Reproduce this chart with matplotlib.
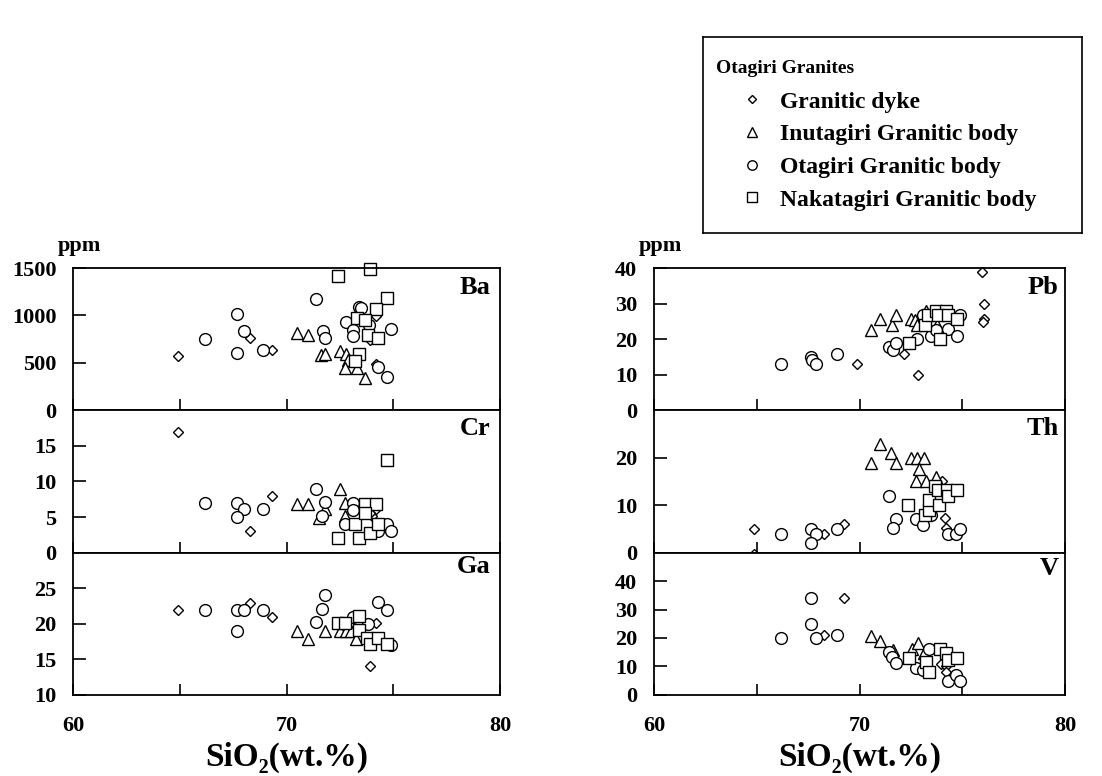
import matplotlib
matplotlib.use('Agg')
import matplotlib.pyplot as plt
from matplotlib.font_manager import FontProperties

plt.rcParams['font.family'] = ['Liberation Serif', 'DejaVu Serif']
plt.rcParams['font.weight'] = 'bold'
plt.rcParams['axes.labelweight'] = 'bold'

groups = ['Granitic dyke', 'Inutagiri Granitic body',
          'Otagiri Granitic body', 'Nakatagiri Granitic body']
markers = ['D', '^', 'o', 's']
msizes = [5, 9, 8.5, 8.5]

# (SiO2, value) for each group, in the order of `groups`
ba = [([64.9, 68.3, 69.3, 74.2, 74.0, 73.9, 74.2],
       [570, 760, 640, 996, 781, 746, 486]),
      ([70.5, 71.0, 71.6, 71.8, 72.5, 72.8, 72.9, 72.75, 73.3, 73.7],
       [816, 792, 580, 590, 625, 590, 531, 451, 444, 340]),
      ([66.2, 67.7, 68.0, 67.7, 68.9, 71.4, 71.7, 71.8, 72.8, 73.1, 73.1,
        73.4, 73.5, 73.85, 74.9, 74.3, 74.7],
       [747, 1016, 831, 606, 631, 1170, 833, 757, 927, 851, 781,
        1087, 1076, 900, 861, 458, 354]),
      ([72.4, 73.9, 74.7, 74.2, 73.3, 73.7, 73.8, 74.3, 73.4, 73.2],
       [1417, 1493, 1180, 1069, 972, 955, 792, 757, 597, 521])]

cr = [([64.9, 68.3, 69.3, 74.0, 74.2, 73.9],
       [17.0, 3.0, 8.0, 5.1, 6.1, 5.5]),
      ([70.5, 71.0, 72.5, 72.75, 71.8, 71.5, 72.75],
       [6.8, 6.8, 8.9, 7.0, 6.1, 4.9, 5.1]),
      ([66.2, 67.7, 68.0, 67.7, 68.9, 71.4, 71.8, 71.65, 73.1, 73.1, 72.75,
        74.7, 74.9, 74.3],
       [7.0, 7.0, 6.1, 5.0, 6.1, 9.0, 7.1, 5.1, 7.0, 6.0, 4.0,
        4.0, 3.0, 3.0]),
      ([74.7, 73.7, 74.2, 73.2, 72.4, 73.4, 73.9, 74.3, 73.7],
       [13.0, 6.9, 6.9, 4.0, 2.0, 2.0, 2.8, 4.0, 5.5])]

ga = [([64.9, 68.3, 69.3, 74.2, 74.2, 73.9],
       [22.0, 22.9, 20.9, 20.1, 18.0, 14.1]),
      ([70.5, 71.0, 71.8, 72.5, 72.8, 73.0, 73.25],
       [19.0, 17.8, 19.0, 19.0, 19.0, 19.0, 17.8]),
      ([66.2, 67.7, 68.0, 67.7, 68.9, 71.8, 71.65, 71.4, 74.3, 74.7, 73.1,
        73.8, 74.9],
       [22.0, 22.0, 22.0, 19.0, 22.0, 24.0, 22.1, 20.2, 23.1, 22.0, 21.0,
        20.0, 17.0]),
      ([72.4, 72.75, 73.4, 73.4, 73.75, 73.9, 74.3, 74.7],
       [20.1, 20.1, 21.1, 19.1, 18.0, 17.1, 18.0, 17.1])]

pb = [([75.95, 76.05, 76.05, 76.0, 69.9, 72.15, 72.85],
       [39.0, 29.9, 25.8, 24.8, 12.9, 15.9, 10.0]),
      ([70.55, 71.0, 71.6, 71.8, 72.5, 72.7, 72.8, 73.25, 73.75],
       [22.7, 25.7, 23.9, 26.8, 25.6, 25.3, 24.0, 28.0, 24.0]),
      ([66.2, 67.65, 67.7, 67.9, 68.9, 71.45, 71.65, 71.8, 72.8, 73.1, 73.2,
        73.5, 73.7, 74.3, 74.75, 74.9],
       [12.9, 14.9, 14.0, 12.9, 15.9, 17.9, 17.0, 19.0, 20.0, 26.9, 24.0,
        21.0, 22.5, 22.8, 21.0, 26.9]),
      ([72.4, 73.2, 73.35, 73.7, 74.2, 73.8, 74.3, 74.75, 73.9],
       [19.0, 24.0, 26.7, 28.0, 28.0, 26.7, 26.7, 25.8, 20.0])]

th = [([64.85, 64.85, 68.25, 69.25, 74.0, 74.15, 74.2],
       [5.0, -0.4, 4.0, 6.0, 15.1, 7.2, 5.1]),
      ([70.55, 71.0, 71.55, 71.8, 72.5, 72.8, 73.15, 72.9, 72.75, 73.25, 73.7],
       [18.9, 23.0, 21.0, 18.9, 19.9, 19.9, 19.9, 17.7, 15.1, 15.1, 15.9]),
      ([66.2, 67.65, 67.9, 67.65, 68.9, 71.45, 71.8, 71.65, 72.75, 73.1,
        73.5, 74.3, 74.7, 74.9],
       [4.0, 5.0, 4.0, 2.0, 5.0, 12.0, 7.0, 5.1, 7.0, 5.9,
        8.0, 4.0, 4.0, 5.0]),
      ([72.35, 73.2, 73.4, 73.4, 73.65, 73.8, 73.85, 74.25, 74.3, 74.75],
       [10.0, 8.0, 9.0, 11.0, 14.0, 13.1, 10.0, 13.1, 11.9, 13.1])]

v = [([69.25, 68.25, 73.95, 74.2, 74.2],
      [33.9, 20.9, 10.9, 10.0, 8.2]),
     ([70.55, 71.0, 71.65, 72.55, 72.85, 73.15],
      [20.8, 19.0, 15.8, 16.1, 18.2, 14.7]),
     ([66.2, 67.65, 67.65, 67.9, 68.9, 71.45, 71.6, 71.8, 72.75, 73.1,
       73.4, 74.3, 74.7, 74.9],
      [20.0, 34.0, 25.0, 20.0, 20.9, 15.2, 13.4, 11.1, 9.3, 8.6,
       16.1, 5.0, 7.0, 5.0]),
     ([72.4, 73.25, 73.4, 73.9, 74.2, 74.3, 74.75],
      [13.0, 11.4, 8.0, 16.2, 14.7, 12.1, 13.0])]

# name, data, y limits, y ticks, label y position
left_panels = [('Ba', ba, (0, 1500), [0, 500, 1000, 1500], 0.86),
               ('Cr', cr, (0, 20), [0, 5, 10, 15], 0.87),
               ('Ga', ga, (10, 30), [10, 15, 20, 25], 0.90)]
right_panels = [('Pb', pb, (0, 40), [0, 10, 20, 30, 40], 0.86),
                ('Th', th, (0, 30), [0, 10, 20], 0.87),
                ('V', v, (0, 50), [0, 10, 20, 30, 40], 0.89)]

W, H = 1102, 776
fig = plt.figure(figsize=(W / 100, H / 100), dpi=100)

top_px, panel_h = 268, 142.3
columns = [(73, 427, left_panels, 0.977), (654, 411, right_panels, 0.985)]

handles = []
for x0, w, panels, lab_x in columns:
    for i, (name, data, ylim, yticks, lab_y) in enumerate(panels):
        y_bottom = top_px + (i + 1) * panel_h
        ax = fig.add_axes([x0 / W, 1 - y_bottom / H, w / W, panel_h / H])
        for (xs, ys), mk, ms, g in zip(data, markers, msizes, groups):
            ln, = ax.plot(xs, ys, ls='none', marker=mk, ms=ms, mfc='white',
                          mec='black', mew=1.0, clip_on=False, label=g)
            if len(handles) < 4:
                handles.append(ln)
        ax.set_xlim(60, 80)
        ax.set_ylim(*ylim)
        ax.set_yticks(yticks)
        ax.set_xticks([60, 65, 70, 75, 80])
        if i == len(panels) - 1:
            ax.set_xticklabels(['60', '', '70', '', '80'])
            ax.set_xlabel('SiO\u2082(wt.%)', fontsize=24, fontweight='bold',
                          labelpad=4)
        else:
            ax.set_xticklabels([])
        ax.tick_params(axis='y', direction='in', length=9, width=1.2,
                       labelsize=16, pad=12)
        ax.tick_params(axis='x', direction='in', length=8, width=1.2,
                       labelsize=16, pad=15)
        for sp in ax.spines.values():
            sp.set_linewidth(1.3)
        ax.text(lab_x, lab_y, name, transform=ax.transAxes, ha='right',
                va='center', fontsize=19)
        if i == 0:
            ax.text(0.016, 1.155, 'ppm', transform=ax.transAxes,
                    ha='center', va='center', fontsize=16)

# legend box drawn as its own empty axes
lax = fig.add_axes([703 / W, 1 - 233 / H, 379 / W, 196 / H])
lax.set_xticks([])
lax.set_yticks([])
for sp in lax.spines.values():
    sp.set_linewidth(1.2)
title_font = FontProperties(family='Liberation Serif', weight='bold', size=14)
leg = lax.legend(handles, groups, loc='upper left',
                 bbox_to_anchor=(13 / 379, 1 - 23 / 196),
                 borderaxespad=0, borderpad=0, frameon=False,
                 title='Otagiri Granites', alignment='left',
                 title_fontproperties=title_font,
                 prop={'weight': 'bold', 'size': 17}, markerscale=0.8,
                 handlelength=3.05, handletextpad=-0.34, labelspacing=0.47)
leg._legend_box.sep = 10.2

fig.savefig('out.png', dpi=100)
